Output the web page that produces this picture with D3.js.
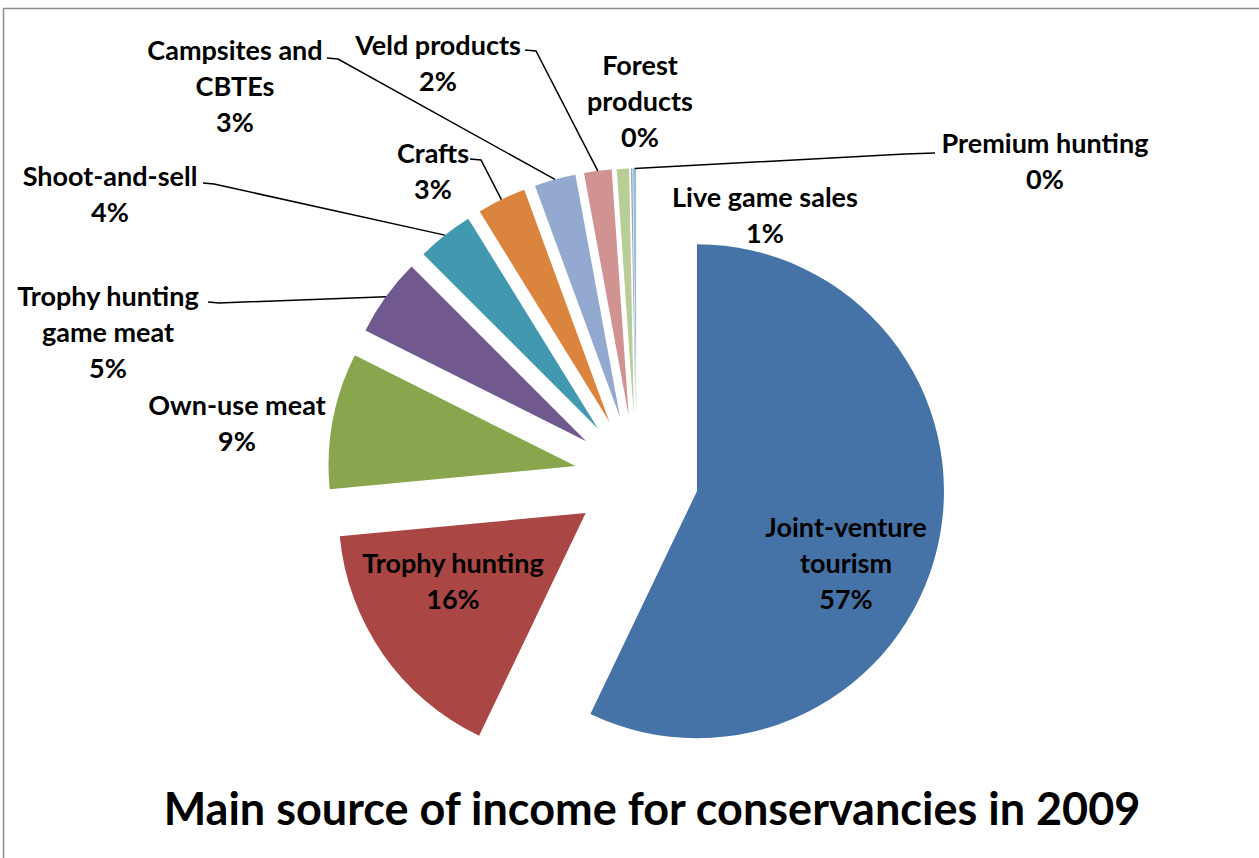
<!DOCTYPE html>
<html lang="en">
  <head>
    <meta charset="utf-8">
    <script type="text/javascript" src="https://cdn.jsdelivr.net/npm/d3@7"></script>
    <style>
      body { margin: 0; background: #fff; }
      text { font-family: Lato, "Open Sans", sans-serif; font-weight: bold; }
    </style>
  </head>
  <body>
    <svg class="chart"></svg>
  </body>
  <script type="text/javascript">
    // data (share of income, percent)
    var categories = ['Joint-venture tourism', 'Trophy hunting', 'Own-use meat',
                      'Trophy hunting game meat', 'Shoot-and-sell', 'Crafts',
                      'Campsites and CBTEs', 'Veld products', 'Live game sales',
                      'Forest products', 'Premium hunting'];
    var values = [57.1, 16.4, 8.9, 5.1, 3.7, 3.2, 2.7, 1.8, 0.8, 0.1, 0.2];
    var title = 'Main source of income for conservancies in 2009';

    var colors = ['#4673A7', '#AA4643', '#89A54E', '#71588F', '#4198AF', '#DB843D',
                  '#93A9CF', '#D19392', '#B9CD96', '#A99BBD', '#91C3D5'];

    // how each label is broken into lines, where it sits, and where its leader starts
    var labelLayout = [
      {lines: ['Joint-venture', 'tourism'], x: 846, y: 537},
      {lines: ['Trophy hunting'], x: 453, y: 573},
      {lines: ['Own-use meat'], x: 237, y: 415},
      {lines: ['Trophy hunting', 'game meat'], x: 108, y: 306, leader: [208, 302]},
      {lines: ['Shoot-and-sell'], x: 110, y: 186, leader: [203, 183]},
      {lines: ['Crafts'], x: 433, y: 163, leader: [470, 159]},
      {lines: ['Campsites and', 'CBTEs'], x: 235, y: 60, leader: [327, 58]},
      {lines: ['Veld products'], x: 438, y: 55, leader: [525, 50]},
      {lines: ['Live game sales'], x: 765, y: 207},
      {lines: ['Forest', 'products'], x: 640, y: 75},
      {lines: ['Premium hunting'], x: 1045, y: 153, leader: [935, 153], side: 'right'}
    ];

    var screenWidth = 1259, screenHeight = 858;
    var svg = d3.select('.chart')
                .attr('width', screenWidth)
                .attr('height', screenHeight);

    svg.append('rect')
       .attr('x', 3.5).attr('y', 8.5)
       .attr('width', 1300).attr('height', 900)
       .attr('fill', 'none')
       .attr('stroke', '#8c8c8c')
       .attr('stroke-width', 1.5);

    var cx = 636.5, cy = 477.5, radius = 247, explode = 62, lineHeight = 36;
    var total = d3.sum(values);

    var pie = d3.pie().sort(null).value(function(d){ return d; });
    var arcs = pie(values);
    var arc = d3.arc().innerRadius(0).outerRadius(radius);

    var offset = function(d){
      var mid = (d.startAngle + d.endAngle) / 2;
      return [explode * Math.sin(mid), -explode * Math.cos(mid)];
    };

    var plot = svg.append('g').attr('transform', 'translate(' + cx + ',' + cy + ')');

    plot.selectAll('path')
        .data(arcs)
        .enter()
        .append('path')
        .attr('d', arc)
        .attr('fill', function(d, i){ return colors[i]; })
        .attr('transform', function(d){
          var o = offset(d);
          return 'translate(' + o[0] + ',' + o[1] + ')';
        });

    // leader lines: from the label to the outer edge of its slice
    arcs.forEach(function(d, i){
      var lay = labelLayout[i];
      if (!lay.leader) return;
      var mid = (d.startAngle + d.endAngle) / 2;
      var o = offset(d);
      var ex = cx + o[0] + radius * Math.sin(mid);
      var ey = cy + o[1] - radius * Math.cos(mid);
      var sx = lay.leader[0], sy = lay.leader[1];
      var kx = lay.side === 'right' ? sx - 30 : sx + 11;
      svg.append('polyline')
         .attr('points', [[sx, sy], [kx, sy + 1], [ex, ey]].map(function(p){ return p.join(','); }).join(' '))
         .attr('fill', 'none')
         .attr('stroke', '#000')
         .attr('stroke-width', 1.5);
    });

    var labels = svg.selectAll('text.label')
                    .data(arcs)
                    .enter()
                    .append('text')
                    .classed('label', true)
                    .attr('text-anchor', 'middle')
                    .attr('font-size', 27)
                    .attr('fill', '#000');

    labels.each(function(d, i){
      var lay = labelLayout[i];
      var t = d3.select(this);
      var rows = lay.lines.concat([Math.round(d.value / total * 100) + '%']);
      rows.forEach(function(r, j){
        t.append('tspan')
         .attr('x', lay.x)
         .attr('y', lay.y + j * lineHeight)
         .text(r);
      });
    });

    svg.append('text')
       .attr('x', 652)
       .attr('y', 825)
       .attr('text-anchor', 'middle')
       .attr('font-size', 45)
       .attr('fill', '#000')
       .text(title);
  </script>
</html>
